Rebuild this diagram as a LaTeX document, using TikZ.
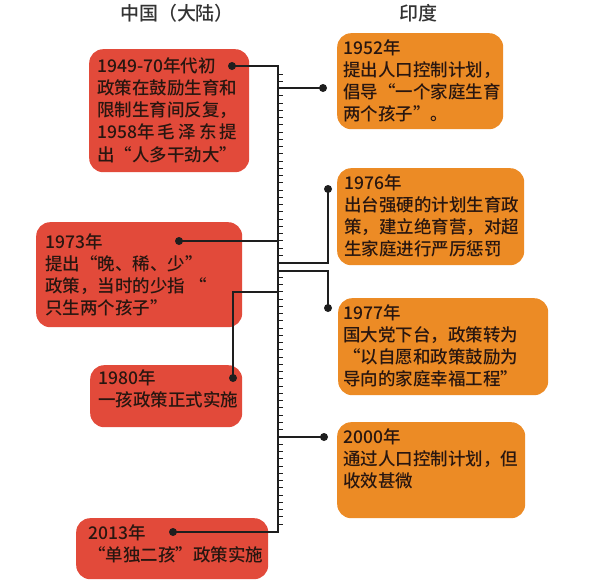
\documentclass[tikz,border=0pt]{standalone}
\usepackage{fontspec}
\setmainfont{Noto Sans CJK SC Medium}
\usetikzlibrary{calc}
\definecolor{boxred}{RGB}{226,74,58}
\definecolor{boxorange}{RGB}{236,139,37}
\definecolor{txt}{RGB}{40,22,16}
\definecolor{lin}{RGB}{30,30,30}
\begin{document}
\begin{tikzpicture}[x=1pt,y=-1pt,
  redbox/.style={fill=boxred, draw=none, rounded corners=14pt, inner sep=0pt, anchor=north west},
  orbox/.style={fill=boxorange, draw=none, rounded corners=14pt, inner sep=0pt, anchor=north west},
  boxtext/.style={anchor=north west, inner sep=0pt, align=left, text=txt, font=\fontsize{17.5}{22.3}\selectfont},
  head/.style={inner sep=0pt, text=black!80, font=\fontsize{19}{22}\selectfont},
  dotmark/.style={circle, fill=lin, inner sep=0pt, minimum size=8pt},
  conn/.style={draw=lin, line width=1.3pt},
  tickmark/.style={draw=lin, line width=1pt}]
\useasboundingbox (0,0) rectangle (590,581);
% headers
\node[head] (hcn) at (177,13) {中国（大陆）};
\node[head] (hin) at (418,13) {印度};
% left boxes
\node[redbox, minimum width=160pt, minimum height=123pt] (b1949) at (89,49) {};
\node[redbox, minimum width=206pt, minimum height=105pt] (b1973) at (36,222) {};
\node[redbox, minimum width=152pt, minimum height=62pt] (b1980) at (90,365) {};
\node[redbox, minimum width=192pt, minimum height=61pt] (b2013) at (76,518) {};
% right boxes
\node[orbox, minimum width=166pt, minimum height=96pt] (b1952) at (337,33) {};
\node[orbox, minimum width=187pt, minimum height=97pt] (b1976) at (337,168) {};
\node[orbox, minimum width=210pt, minimum height=97pt] (b1977) at (338,298) {};
\node[orbox, minimum width=188pt, minimum height=96pt] (b2000) at (337,422) {};
% texts
\node[boxtext] (t1949) at (97,57) {1949-70年代初\\政策在鼓励生育和\\限制生育间反复，\\\makebox[8em][s]{1958年\hfil 毛\hfil 泽\hfil 东\hfil 提}\\出“人多干劲大”};
\node[boxtext] (t1973) at (45,233) {1973年\\提出“晚、稀、少”\\政策，当时的少指 “\\只生两个孩子”};
\node[boxtext] (t1980) at (98,369) {1980年\\一孩政策正式实施};
\node[boxtext] (t2013) at (88,524) {2013年\\“单独二孩”政策实施};
\node[boxtext] (t1952) at (343,39) {1952年\\提出人口控制计划，\\倡导“一个家庭生育\\两个孩子”。};
\node[boxtext] (t1976) at (344,174) {1976年\\出台强硬的计划生育政\\策，建立绝育营，对超\\生家庭进行严厉惩罚};
\node[boxtext] (t1977) at (343,304) {1977年\\国大党下台，政策转为\\“以自愿和政策鼓励为\\导向的家庭幸福工程”};
\node[boxtext] (t2000) at (343,428) {2000年\\通过人口控制计划，但\\收效甚微};
% axis
\coordinate (axtop) at (278,66);
\coordinate (axbot) at (278,532);
\foreach \i in {0,...,62}
  \draw[tickmark] ($(axtop)+(0,8+\i*7.26)$) -- ++(5,0);
% dots
\node[dotmark] (d1949) at (232,66) {};
\node[dotmark] (d1952) at (323,88) {};
\node[dotmark] (d1973) at (179,241) {};
\node[dotmark] (d1976) at (328,189) {};
\node[dotmark] (d1977) at (328,308) {};
\node[dotmark] (d1980) at (233,378) {};
\node[dotmark] (d2000) at (324,437) {};
\node[dotmark] (d2013) at (173,532) {};
% axis junction coordinates
\coordinate (j1952) at (278,88);
\coordinate (j1973) at (278,241);
\coordinate (j1976) at (278,263);
\coordinate (j1977) at (278,271);
\coordinate (j1980) at (278,292);
\coordinate (j2000) at (278,437);
% connectors
\draw[conn] (d1949.center) -- (axtop) -- (axbot) -- (d2013.center);
\draw[conn] (j1952) -- (d1952.center);
\draw[conn] (d1973.center) -- (j1973);
\draw[conn] (j1976) -| (d1976.center);
\draw[conn] (j1977) -| (d1977.center);
\draw[conn] (j1980) -| (d1980.center);
\draw[conn] (j2000) -- (d2000.center);
\end{tikzpicture}
\end{document}
